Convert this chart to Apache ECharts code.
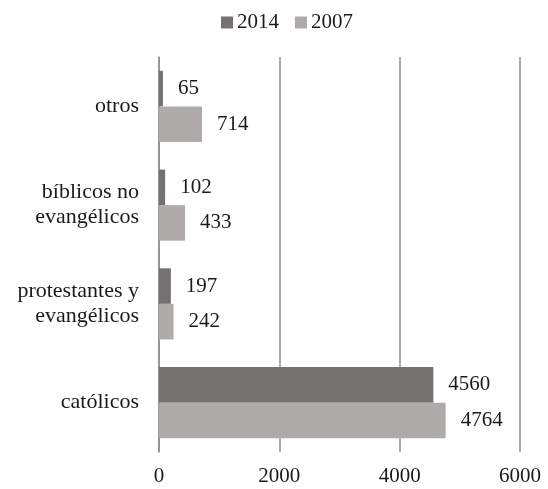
<!DOCTYPE html>
<html><head><meta charset="utf-8">
<script src="https://cdn.jsdelivr.net/npm/echarts@6/dist/echarts.min.js"></script>
<style>html,body{margin:0;padding:0;background:#fff}#c{width:548px;height:489px}</style>
</head><body><div id="c"></div>
<script>
const categories = ['católicos', 'protestantes y\nevangélicos', 'bíblicos no\nevangélicos', 'otros'];
const values2014 = [4560, 197, 102, 65];
const values2007 = [4764, 242, 433, 714];
const xTicks = [0, 2000, 4000, 6000];

const FONT = 'Liberation Serif';
const chart = echarts.init(document.getElementById('c'));
const labelStyle = {show: true, position: 'right', distance: 15, fontFamily: FONT, fontSize: 21, color: '#1a1a1a'};
chart.setOption({
  animation: false,
  textStyle: {fontFamily: FONT},
  legend: {
    data: ['2014', '2007'], left: 221, top: 12, padding: 0, itemWidth: 12, itemHeight: 12, itemGap: 16,
    icon: 'rect', textStyle: {fontFamily: FONT, fontSize: 21, color: '#1a1a1a', padding: [0,0,0,-1]}
  },
  grid: {left: 159, right: 28, top: 57, bottom: 37, containLabel: false},
  xAxis: {
    type: 'value', min: xTicks[0], max: xTicks[xTicks.length-1], interval: 2000,
    axisLine: {show: false}, axisTick: {show: false},
    splitLine: {show: true, lineStyle: {color: '#8f8f8f', width: 1.5}},
    axisLabel: {fontFamily: FONT, fontSize: 21, color: '#1a1a1a', margin: 14, formatter: v => String(v)}
  },
  yAxis: {
    type: 'category', data: categories,
    axisLine: {show: true, lineStyle: {color: '#8f8f8f', width: 1.5}},
    axisTick: {show: false},
    axisLabel: {fontFamily: FONT, fontSize: 22, color: '#1a1a1a', margin: 20, lineHeight: 25, align: 'right'}
  },
  series: [
    {name: '2014', type: 'bar', data: values2014, barGap: '0%', barCategoryGap: '28%',
     itemStyle: {color: '#757171'}, label: labelStyle},
    {name: '2007', type: 'bar', data: values2007, barGap: '0%', barCategoryGap: '28%',
     itemStyle: {color: '#afabab'}, label: labelStyle}
  ]
});
</script></body></html>
